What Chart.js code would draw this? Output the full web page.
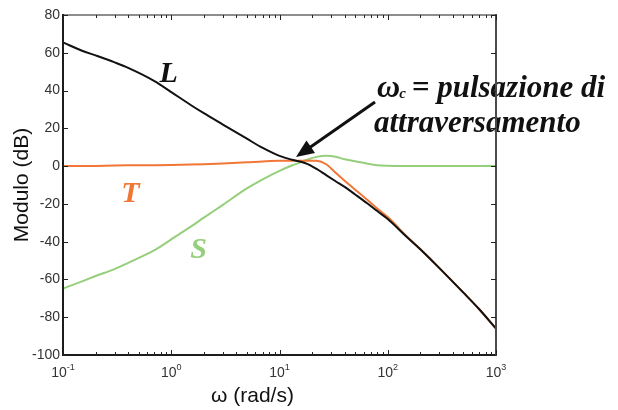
<!DOCTYPE html>
<html>
<head>
<meta charset="utf-8">
<script src="https://cdn.jsdelivr.net/npm/chart.js@4.4.1/dist/chart.umd.min.js"></script>
<style>
html,body{margin:0;padding:0;background:#fff;}
#wrap{width:618px;height:410px;position:relative;}
</style>
</head>
<body>
<div id="wrap"><canvas id="c"></canvas></div>
<script>
// Frequency grid (rad/s)
const omega = [0.1,0.15,0.2,0.3,0.4,0.7,1,1.5,2,3,5,7,10,13,15,18,22,27,33,40,50,65,80,100,150,200,300,500,700,1000];
// Open-loop magnitude L (dB)
const magL = [65.5,61.1,58.6,54.9,52.0,45.0,39.2,32.5,28.0,22.0,14.5,9.6,5.4,3.4,2.6,1.2,-1.5,-4.8,-8.0,-11.0,-15.0,-19.8,-23.8,-28.0,-37.5,-44.0,-54.0,-67.0,-75.8,-86.0];
// Complementary sensitivity T (dB)
const magT = [0,0,0.1,0.3,0.4,0.5,0.6,0.8,1.0,1.4,2.0,2.5,2.8,2.9,2.9,2.9,2.8,1.0,-3.5,-7.8,-12.5,-18.0,-22.5,-27.0,-37.2,-44.0,-54.0,-67.0,-75.8,-86.0];
// Sensitivity S (dB)
const magS = [-64.8,-61.0,-58.2,-54.5,-51.2,-44.5,-38.8,-32.2,-27.3,-20.5,-11.8,-7.0,-2.5,0.3,1.6,3.4,4.9,5.5,5.0,3.6,2.6,1.3,0.5,0.2,0.05,0,0,0,0,0];

// Decade tick positions on the frequency axis and their exponents
const xDecades = [0.1,1,10,100,1000];
const xDecadeExp = ['-1','0','1','2','3'];

const SANS = '"Liberation Sans", Arial, sans-serif';
const SERIF = '"Liberation Serif", "Times New Roman", serif';

const COL_L = '#111111';
const COL_T = '#f27636';
const COL_S = '#96cf7c';

const toPoints = vals => omega.map((w, i) => ({x: w, y: vals[i]}));

const decor = {
  id: 'decor',
  beforeDatasetsDraw(chart) {
    const {ctx} = chart;
    ctx.save();
    ctx.fillStyle = '#111';
    ctx.textBaseline = 'alphabetic';
    ctx.textAlign = 'left';
    // crossover frequency caption
    ctx.font = 'italic bold 32px ' + SERIF;
    ctx.fillText('\u03C9', 377, 97);
    const wW = ctx.measureText('\u03C9').width;
    ctx.font = 'italic bold 15px ' + SERIF;
    ctx.fillText('c', 377 + wW - 1, 98);
    ctx.font = 'italic bold 31px ' + SERIF;
    ctx.fillText(' = pulsazione di', 404, 97);
    ctx.fillText('attraversamento', 374, 132);
    ctx.restore();
  },
  afterDraw(chart) {
    const {ctx, chartArea: {left, right, top, bottom}, scales: {x, y}} = chart;
    ctx.save();

    // box frame
    ctx.lineCap = 'square';
    ctx.strokeStyle = '#1c1c1c';
    ctx.lineWidth = 1.2;
    ctx.beginPath();
    ctx.moveTo(left, top); ctx.lineTo(right, top);
    ctx.stroke();
    ctx.lineWidth = 2;
    ctx.beginPath();
    ctx.moveTo(left, top); ctx.lineTo(left, bottom); ctx.lineTo(right, bottom);
    ctx.stroke();
    ctx.strokeStyle = '#4a4a4a';
    ctx.beginPath();
    ctx.moveTo(right, top); ctx.lineTo(right, bottom);
    ctx.stroke();

    // inward tick marks
    ctx.strokeStyle = '#222';
    ctx.lineWidth = 1;
    ctx.lineCap = 'butt';
    for (let d = 0; d < xDecades.length; d++) {
      const base = xDecades[d];
      const mult = d < xDecades.length - 1 ? [1,2,3,4,5,6,7,8,9] : [1];
      mult.forEach(k => {
        const px = Math.round(x.getPixelForValue(base * k)) + 0.5;
        const len = k === 1 ? 5 : 3;
        ctx.beginPath();
        ctx.moveTo(px, bottom); ctx.lineTo(px, bottom - len);
        ctx.moveTo(px, top); ctx.lineTo(px, top + len);
        ctx.stroke();
      });
    }
    y.ticks.forEach(t => {
      const py = Math.round(y.getPixelForValue(t.value)) + 0.5;
      ctx.beginPath();
      ctx.moveTo(left, py); ctx.lineTo(left + 5, py);
      ctx.moveTo(right, py); ctx.lineTo(right - 5, py);
      ctx.stroke();
    });

    // decade labels 10^n
    ctx.fillStyle = '#333';
    ctx.textBaseline = 'alphabetic';
    ctx.textAlign = 'left';
    xDecades.forEach((v, i) => {
      const px = x.getPixelForValue(v);
      ctx.font = '14px ' + SANS;
      const wb = ctx.measureText('10').width;
      ctx.font = '9px ' + SANS;
      const we = ctx.measureText(xDecadeExp[i]).width;
      const x0 = px - (wb + we) / 2;
      ctx.font = '14px ' + SANS;
      ctx.fillText('10', x0, bottom + 22);
      ctx.font = '9px ' + SANS;
      ctx.fillText(xDecadeExp[i], x0 + wb, bottom + 15);
    });

    // frequency axis title
    ctx.fillStyle = '#111';
    ctx.font = '21px ' + SANS;
    ctx.fillText('\u03C9 (rad/s)', 211, 402);

    // curve names
    ctx.font = 'italic bold 30px ' + SERIF;
    ctx.fillStyle = COL_L;
    ctx.fillText('L', x.getPixelForValue(0.78), y.getPixelForValue(44.5));
    ctx.fillStyle = COL_T;
    ctx.fillText('T', x.getPixelForValue(0.345), y.getPixelForValue(-18.8));
    ctx.fillStyle = COL_S;
    ctx.fillText('S', x.getPixelForValue(1.5), y.getPixelForValue(-48.7));

    // arrow to the crossover point
    const tx = x.getPixelForValue(14.2), ty = y.getPixelForValue(4.8);
    const sx = 375, sy = 102;
    const ang = Math.atan2(ty - sy, tx - sx);
    const hl = 18, hw = 7.5;
    const bx = tx - hl * Math.cos(ang), by = ty - hl * Math.sin(ang);
    ctx.strokeStyle = '#111';
    ctx.fillStyle = '#111';
    ctx.lineWidth = 3;
    ctx.beginPath();
    ctx.moveTo(sx, sy); ctx.lineTo(bx + 2 * Math.cos(ang), by + 2 * Math.sin(ang));
    ctx.stroke();
    ctx.beginPath();
    ctx.moveTo(tx, ty);
    ctx.lineTo(bx + hw * Math.sin(ang), by - hw * Math.cos(ang));
    ctx.lineTo(bx - hw * Math.sin(ang), by + hw * Math.cos(ang));
    ctx.closePath();
    ctx.fill();

    ctx.restore();
  }
};

new Chart(document.getElementById('c'), {
  type: 'line',
  data: {
    datasets: [
      {label: 'L', data: toPoints(magL), borderColor: COL_L, borderWidth: 2},
      {label: 'T', data: toPoints(magT), borderColor: COL_T, borderWidth: 2},
      {label: 'S', data: toPoints(magS), borderColor: COL_S, borderWidth: 2}
    ]
  },
  options: {
    responsive: true,
    maintainAspectRatio: false,
    animation: false,
    devicePixelRatio: 1,
    layout: {padding: {left: 0, top: 15, right: 122, bottom: 55}},
    elements: {
      point: {radius: 0, hoverRadius: 0},
      line: {cubicInterpolationMode: 'monotone', fill: false}
    },
    plugins: {legend: {display: false}, tooltip: {enabled: false}},
    events: [],
    scales: {
      x: {
        type: 'logarithmic',
        min: 0.1,
        max: 1000,
        ticks: {display: false},
        grid: {display: false},
        border: {display: false},
        afterFit: s => { s.height = 0; }
      },
      y: {
        type: 'linear',
        min: -100,
        max: 80,
        ticks: {stepSize: 20, padding: 3, color: '#333', font: {family: SANS, size: 14}},
        grid: {display: false, drawTicks: false},
        border: {display: false},
        title: {display: true, text: 'Modulo (dB)', color: '#111', font: {family: SANS, size: 21}, padding: {top: 10, bottom: 0}},
        afterFit: s => { s.width = 63; }
      }
    }
  },
  plugins: [decor]
});
</script>
</body>
</html>
